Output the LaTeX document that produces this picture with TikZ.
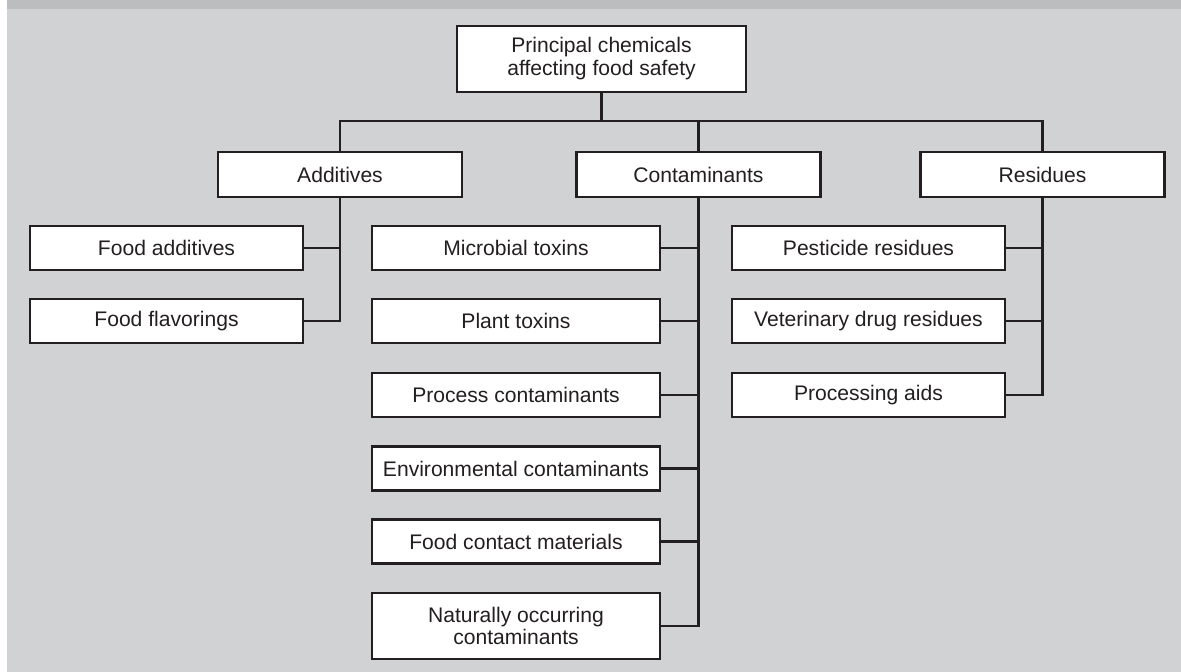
\documentclass[tikz,border=0pt]{standalone}
\usepackage{fontspec}
\setmainfont{Liberation Sans}
\definecolor{panelgrey}{RGB}{209, 210, 212}
\definecolor{bandgrey}{RGB}{188, 189, 191}
\definecolor{inkblack}{RGB}{35, 31, 32}
\usepackage{tikz}
\usetikzlibrary{positioning, calc}

\begin{document}
\begin{tikzpicture}[
    catbox/.style={draw=inkblack, fill=white, line width=1.6pt, inner sep=0pt, align=center,
      text=inkblack, font=\fontsize{15}{16.3}\selectfont, minimum height=1.1cm},
    headbox/.style={catbox, minimum width=6.1cm, minimum height=1.125cm},
    sidebox/.style={catbox, minimum width=6.825cm},
    midbox/.style={catbox, minimum width=7.2cm},
    wire/.style={draw=inkblack, line width=1.8pt, line join=miter}
  ]
  \useasboundingbox (0, 0) rectangle (29.525, 16.8);

  % Background panel with darker strip on top
  \fill[panelgrey] (0.175, 0) rectangle (29.525, 16.8);
  \fill[bandgrey] (0.175, 16.5625) rectangle (29.525, 16.8);

  % Root
  \node[catbox, minimum width=7.225cm, minimum height=1.65cm] (root) at (15.0375, 15.325) {
    Principal chemicals\\affecting food safety
  };

  % Main groups
  \node[headbox] (add) at (8.5, 12.4375) {Additives};
  \node[headbox] (cont) at (17.4625, 12.4375) {Contaminants};
  \node[headbox] (res) at (26.0625, 12.4375) {Residues};

  % Additives
  \node[sidebox] (foodadd) at (4.1625, 10.6) {Food additives};
  \node[sidebox] (flavor) at (4.1625, 8.775) {Food flavorings};

  % Contaminants
  \node[midbox] (microb) at (12.9, 10.6) {Microbial toxins};
  \node[midbox] (plant) at (12.9, 8.775) {Plant toxins};
  \node[midbox] (process) at (12.9, 6.925) {Process contaminants};
  \node[midbox] (environ) at (12.9, 5.0875) {Environmental contaminants};
  \node[midbox] (contact) at (12.9, 3.2625) {Food contact materials};
  \node[midbox, minimum height=1.65cm] (natural) at (12.9, 1.15) {
    Naturally occurring\\contaminants
  };

  % Residues
  \node[sidebox] (pestic) at (21.7125, 10.6) {Pesticide residues};
  \node[sidebox] (vetdrug) at (21.7125, 8.775) {Veterinary drug residues};
  \node[sidebox] (procaid) at (21.7125, 6.925) {Processing aids};

  % Tree lines
  \coordinate (bus) at (0, 13.775);
  \draw[wire] (root.south) -- (root.south |- bus);
  \draw[wire] (add.north) -- (add.north |- bus) -- (res.north |- bus) -- (res.north);
  \draw[wire] (cont.north) -- (cont.north |- bus);

  \foreach \leaf in {foodadd, flavor}
    \draw[wire] (add.south) |- (\leaf.east);
  \foreach \leaf in {microb, plant, process, environ, contact, natural}
    \draw[wire] (cont.south) |- (\leaf.east);
  \foreach \leaf in {pestic, vetdrug, procaid}
    \draw[wire] (res.south) |- (\leaf.east);
\end{tikzpicture}
\end{document}
